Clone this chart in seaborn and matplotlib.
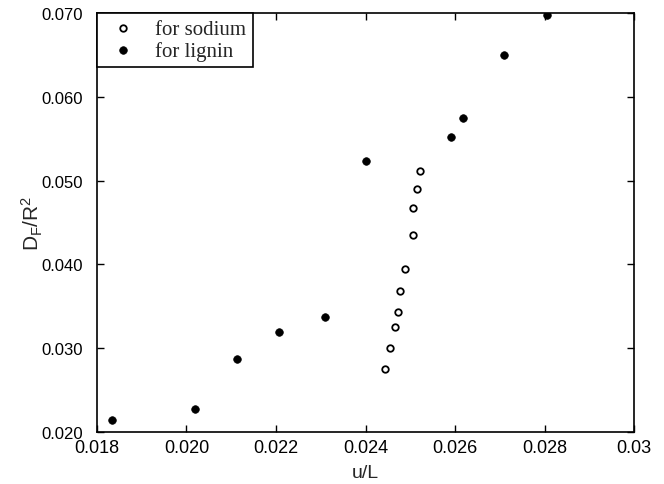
import pandas as pd
import matplotlib
matplotlib.use("Agg")
import matplotlib.pyplot as plt
import seaborn as sns

sns.set_theme(style="ticks")
plt.rcParams['font.family'] = ['Liberation Sans', 'DejaVu Sans']

# values
sodium_x = [0.02522, 0.02515, 0.02507, 0.02505, 0.02489, 0.02478, 0.02473, 0.02465, 0.02454, 0.02443]
sodium_y = [0.0512, 0.0490, 0.0467, 0.0435, 0.0395, 0.0368, 0.0343, 0.0325, 0.0300, 0.0275]

lignin_x = [0.01834, 0.0202, 0.02113, 0.02206, 0.0231, 0.0240, 0.02592, 0.02617, 0.0271, 0.02806]
lignin_y = [0.0215, 0.0227, 0.0287, 0.0320, 0.0337, 0.0524, 0.0552, 0.0575, 0.0650, 0.0698]

x_ticks = [0.018, 0.020, 0.022, 0.024, 0.026, 0.028, 0.030]
x_labels = ['0.018', '0.020', '0.022', '0.024', '0.026', '0.028', '0.03']
y_ticks = [0.020, 0.030, 0.040, 0.050, 0.060, 0.070]

sodium = pd.DataFrame({'u/L': sodium_x, 'DF': sodium_y})
lignin = pd.DataFrame({'u/L': lignin_x, 'DF': lignin_y})

fig = plt.figure(figsize=(6.64, 4.85), dpi=100)
ax = fig.add_axes([0.146, 0.107, 0.809, 0.864])

sns.scatterplot(data=sodium, x='u/L', y='DF', ax=ax, s=22, marker='o',
                facecolor='white', edgecolor='black', linewidth=1.3, label='for sodium')
sns.scatterplot(data=lignin, x='u/L', y='DF', ax=ax, s=30, marker='o',
                color='black', edgecolor='black', linewidth=0.5, label='for lignin')

ax.set_xlim(0.018, 0.030)
ax.set_ylim(0.020, 0.070)
ax.set_xticks(x_ticks)
ax.set_xticklabels(x_labels)
ax.set_yticks(y_ticks)
ax.set_yticklabels([f'{v:.3f}' for v in y_ticks])
ax.tick_params(direction='in', length=5, width=1, top=True, right=True,
               colors='black')
ax.tick_params(axis='y', pad=10, labelsize=12)
ax.tick_params(axis='x', pad=5, labelsize=13)
for sp in ax.spines.values():
    sp.set_color('black')
    sp.set_linewidth(1.2)

ax.set_xlabel('u/L', fontsize=14, labelpad=6)
ax.set_ylabel(r'$\mathregular{D_F/R^2}$', fontsize=15)
ax.yaxis.set_label_coords(-0.096, 0.5)

leg = ax.legend(loc='upper left', borderaxespad=0, frameon=True, fancybox=False,
                edgecolor='black', framealpha=1, handlelength=1.9, handletextpad=0.6,
                borderpad=0.3, labelspacing=0.1,
                prop={'family': 'Liberation Serif', 'size': 15})
leg.get_frame().set_linewidth(1.2)

fig.savefig('out.png', dpi=100)
